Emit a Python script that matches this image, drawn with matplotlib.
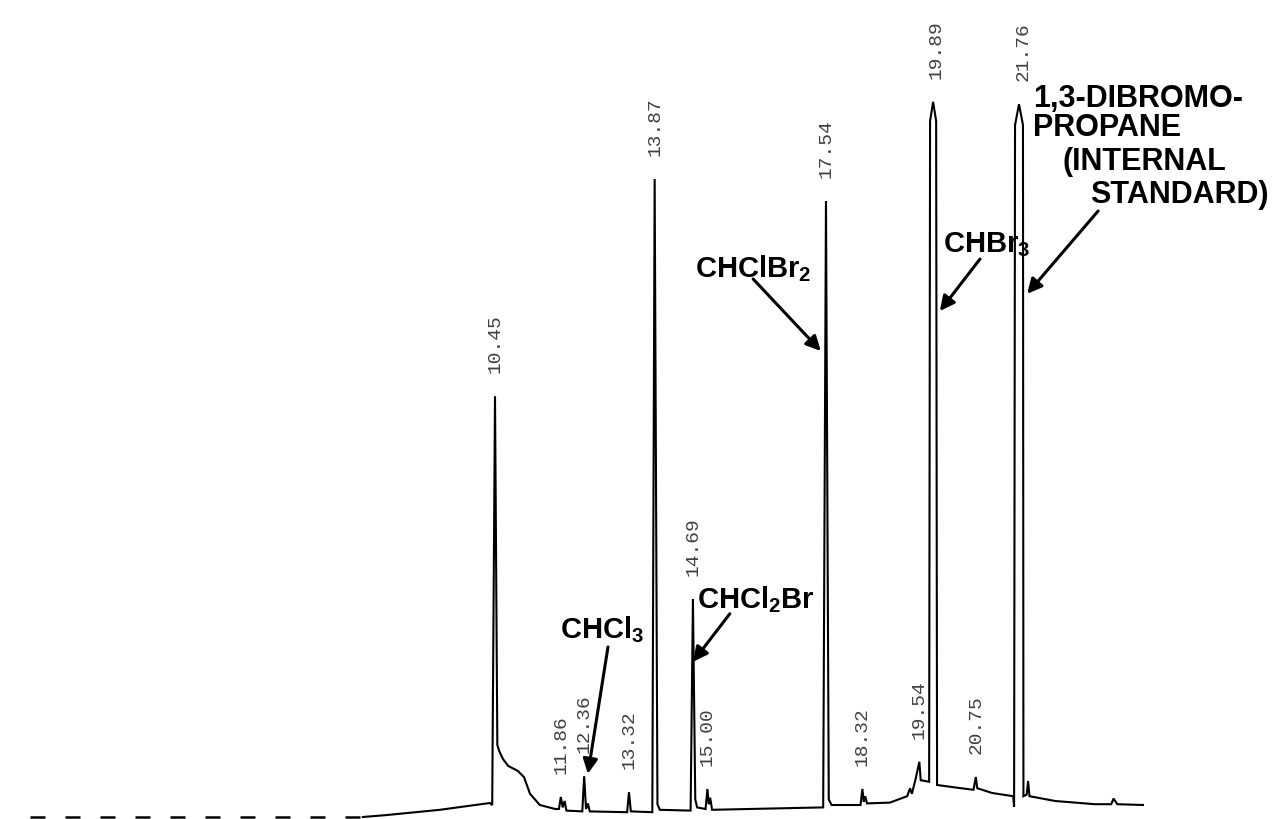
import matplotlib
matplotlib.use("Agg")
import matplotlib.pyplot as plt

plt.rcParams['mathtext.fontset'] = 'custom'
plt.rcParams['mathtext.rm'] = 'Liberation Sans'
plt.rcParams['mathtext.bf'] = 'Liberation Sans:bold'

# retention time (min) and detector signal (% of full scale)
faint_t = [0.49, 7.62]
faint_s = [0.0, 0.0]

trace_t = [7.62, 8.14, 9.27, 10.34, 10.39, 10.45, 10.50, 10.54, 10.62, 10.73, 10.94, 11.07,
           11.20, 11.41, 11.74, 11.82, 11.86, 11.90, 11.94, 11.98, 12.32, 12.36, 12.40, 12.44,
           12.48, 13.28, 13.32, 13.36, 13.82, 13.87, 13.93, 13.98, 14.64, 14.69, 14.74, 14.78,
           14.96, 15.00, 15.03, 15.06, 15.10, 17.48, 17.54, 17.60, 17.66, 18.28, 18.32, 18.35,
           18.38, 18.42, 18.91, 19.28, 19.34, 19.38, 19.46, 19.54, 19.57, 19.75, 19.77, 19.835,
           19.90, 19.92, 20.30, 20.70, 20.75, 20.78, 21.10, 21.55, 21.57, 21.59, 21.675, 21.76,
           21.77, 21.84, 21.87, 21.90, 22.45, 23.30, 23.65, 23.70, 23.78, 24.33]
trace_s = [0.0, 0.25, 0.9, 1.75, 1.5, 52.6, 9.0, 8.25, 7.25, 6.4, 5.75, 5.0,
           2.9, 1.5, 1.0, 1.0, 2.5, 1.2, 2.0, 0.8, 0.7, 5.1, 1.0, 1.7,
           0.7, 0.6, 3.1, 0.7, 0.6, 79.75, 1.6, 0.9, 0.8, 27.25, 2.2, 1.2,
           1.0, 3.5, 1.6, 2.4, 0.9, 1.2, 77.0, 2.2, 1.5, 1.5, 3.5, 1.9,
           2.6, 1.7, 1.8, 2.6, 3.6, 2.9, 4.75, 6.9, 4.6, 4.4, 87.0, 89.4,
           87.0, 4.0, 3.7, 3.4, 5.0, 3.6, 3.0, 2.6, 1.3, 86.5, 89.1, 86.5,
           2.6, 2.8, 4.5, 2.6, 2.0, 1.6, 1.6, 2.3, 1.6, 1.5]

peak_rt = [10.45, 11.86, 12.36, 13.32, 13.87, 14.69, 15.00, 17.54, 18.32, 19.54, 19.89, 20.75, 21.76]
peak_top = [52.6, 2.5, 5.1, 3.1, 79.75, 27.25, 3.5, 77.0, 3.5, 6.9, 89.4, 5.0, 89.1]

fig = plt.figure(figsize=(12.82, 8.2), dpi=100)
ax = fig.add_axes([0, 0, 1, 1])
ax.set_xlim(-0.154, 27.309)
ax.set_ylim(-0.25, 102.25)
ax.axis('off')

ax.plot(faint_t, faint_s, color='black', lw=1.8, linestyle=(0, (6, 8)))
ax.plot(trace_t, trace_s, color='black', lw=1.5, solid_joinstyle='miter')

# printed retention times above each peak
for rt, top in zip(peak_rt, peak_top):
    ax.text(rt, top + 3.0, f'{rt:.2f}', rotation=90, ha='center', va='bottom',
            family='Liberation Mono', fontsize=14, color='#404040')

name_kw = dict(fontsize=21, ha='left', va='baseline', color='black')
arrow_kw = dict(arrowstyle='-|>', lw=2.2, color='black', mutation_scale=22,
                shrinkA=0, shrinkB=0)

ax.text(11.84, 22.5, r'$\mathbf{CHCl_3}$', **name_kw)
ax.annotate('', xy=(12.44, 5.4), xytext=(12.87, 21.25), arrowprops=arrow_kw)

ax.text(14.78, 26.25, r'$\mathbf{CHCl_2Br}$', **name_kw)
ax.annotate('', xy=(14.69, 19.4), xytext=(15.48, 25.4), arrowprops=arrow_kw)

ax.text(14.73, 67.6, r'$\mathbf{CHClBr_2}$', **name_kw)
ax.annotate('', xy=(17.43, 58.25), xytext=(15.98, 67.25), arrowprops=arrow_kw)

ax.text(20.05, 70.75, r'$\mathbf{CHBr_3}$', **name_kw)
ax.annotate('', xy=(19.98, 63.25), xytext=(20.84, 69.75), arrowprops=arrow_kw)

std_lines = ['1,3-DIBROMO-', 'PROPANE', '(INTERNAL', 'STANDARD)']
std_x = [21.97, 21.97, 22.60, 23.20]
std_y = [88.9, 85.2, 81.0, 76.9]
for line, x, y in zip(std_lines, std_x, std_y):
    ax.text(x, y, line, family='Liberation Sans', fontweight='bold',
            **{**name_kw, 'fontsize': 22})
ax.annotate('', xy=(21.85, 65.4), xytext=(23.37, 75.75), arrowprops=arrow_kw)

fig.savefig('out.png', dpi=100)
